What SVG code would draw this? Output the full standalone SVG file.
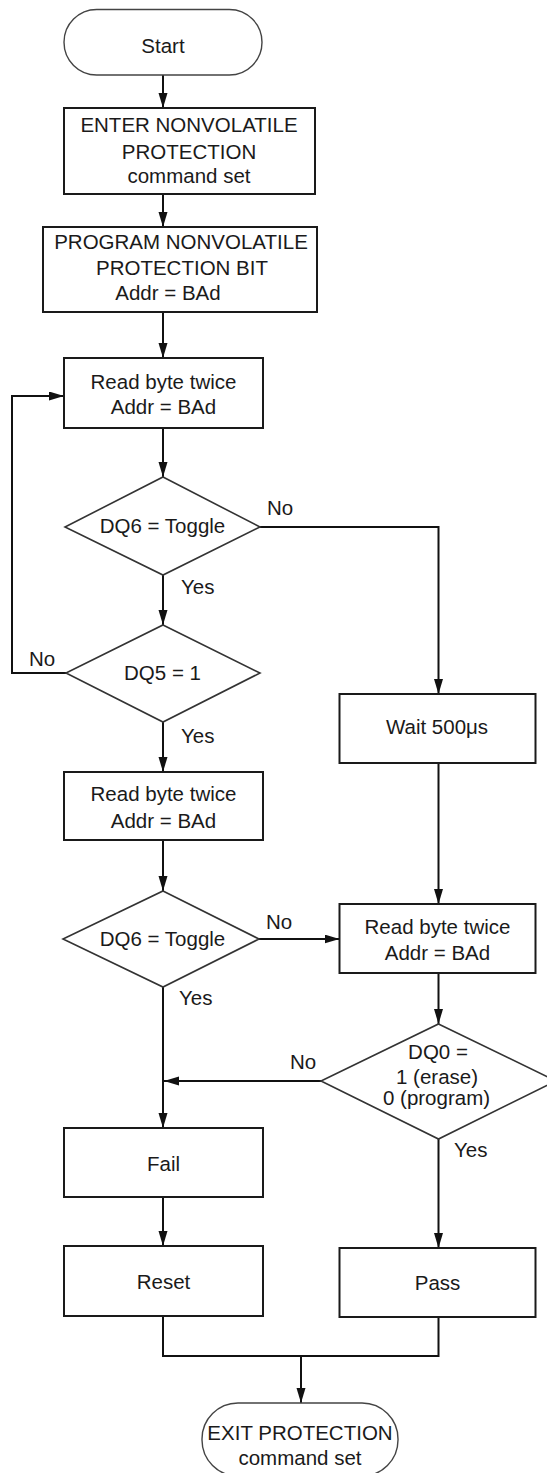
<svg xmlns="http://www.w3.org/2000/svg" width="547" height="1473" viewBox="0 0 547 1473">
<defs>
<marker id="ah" markerUnits="userSpaceOnUse" markerWidth="16" markerHeight="10" refX="15" refY="4.5" orient="auto">
<path d="M0,0 L15,4.5 L0,9 z" fill="#111"/>
</marker>
<style>
.box{fill:#fff;stroke:#1a1a1a;stroke-width:2}
.dia{fill:#fff;stroke:#333;stroke-width:1.6}
.term{fill:#fff;stroke:#444;stroke-width:1.4}
.t{font-family:"Liberation Sans",Arial,sans-serif;font-size:20.5px;fill:#1a1a1a;text-anchor:middle}
.l{font-family:"Liberation Sans",Arial,sans-serif;font-size:20.5px;fill:#1a1a1a}
.c{fill:none;stroke:#111;stroke-width:2}
</style>
</defs>
<rect width="547" height="1473" fill="#fff"/>
<g id="connectors">
<path class="c" d="M163,75 V108" marker-end="url(#ah)"/>
<path class="c" d="M163,194 V227" marker-end="url(#ah)"/>
<path class="c" d="M163,312 V358" marker-end="url(#ah)"/>
<path class="c" d="M163,428 V477" marker-end="url(#ah)"/>
<path class="c" d="M163,575 V625" marker-end="url(#ah)"/>
<path class="c" d="M66,673 H12 V396 H64" marker-end="url(#ah)"/>
<path class="c" d="M260,527 H438.5 V694" marker-end="url(#ah)"/>
<path class="c" d="M163,722 V772" marker-end="url(#ah)"/>
<path class="c" d="M163,840 V891" marker-end="url(#ah)"/>
<path class="c" d="M259,939 H339.5" marker-end="url(#ah)"/>
<path class="c" d="M438.5,763 V904" marker-end="url(#ah)"/>
<path class="c" d="M438.5,973 V1024" marker-end="url(#ah)"/>
<path class="c" d="M163,987 V1128" marker-end="url(#ah)"/>
<path class="c" d="M321,1081 H164" marker-end="url(#ah)"/>
<path class="c" d="M163,1197 V1246" marker-end="url(#ah)"/>
<path class="c" d="M438.5,1139 V1248" marker-end="url(#ah)"/>
<path class="c" d="M163,1316 V1356 H438.5 V1317"/>
<path class="c" d="M301,1356 V1403" marker-end="url(#ah)"/>
<text class="l" x="267" y="515">No</text>
<text class="l" x="181" y="594">Yes</text>
<text class="l" x="29" y="666">No</text>
<text class="l" x="181" y="743">Yes</text>
<text class="l" x="266" y="929">No</text>
<text class="l" x="179" y="1005">Yes</text>
<text class="l" x="290" y="1069">No</text>
<text class="l" x="454" y="1157">Yes</text>
</g>
<g id="start">
<rect class="term" x="64" y="9.5" width="198" height="65.5" rx="32.7"/>
<text class="t" x="163" y="53">Start</text>
</g>
<g id="enter">
<rect class="box" x="64" y="108" width="251" height="86"/>
<text class="t" x="189" y="132">ENTER NONVOLATILE</text>
<text class="t" x="189" y="158.5">PROTECTION</text>
<text class="t" x="189" y="183">command set</text>
</g>
<g id="program">
<rect class="box" x="43" y="227" width="274" height="85"/>
<text class="t" x="181" y="248.5">PROGRAM NONVOLATILE</text>
<text class="t" x="182" y="275">PROTECTION BIT</text>
<text class="t" x="168" y="300">Addr = BAd</text>
</g>
<g id="read1">
<rect class="box" x="64" y="358" width="199" height="70"/>
<text class="t" x="163.5" y="388.5">Read byte twice</text>
<text class="t" x="163.5" y="414">Addr = BAd</text>
</g>
<g id="dq6a">
<polygon class="dia" points="163,477 260,527 163,575 65,527"/>
<text class="t" x="162.5" y="533">DQ6 = Toggle</text>
</g>
<g id="dq5">
<polygon class="dia" points="163,625 260,673 163,722 66,673"/>
<text class="t" x="162.5" y="680">DQ5 = 1</text>
</g>
<g id="wait">
<rect class="box" x="339.5" y="694" width="196" height="69"/>
<text class="t" x="437" y="734">Wait 500μs</text>
</g>
<g id="read2">
<rect class="box" x="64" y="772" width="199" height="68"/>
<text class="t" x="163.5" y="801">Read byte twice</text>
<text class="t" x="163.5" y="827.5">Addr = BAd</text>
</g>
<g id="dq6b">
<polygon class="dia" points="163,891 259,939 163,987 63,939"/>
<text class="t" x="162.5" y="946">DQ6 = Toggle</text>
</g>
<g id="read3">
<rect class="box" x="339.5" y="904" width="196" height="69"/>
<text class="t" x="437.5" y="933.5">Read byte twice</text>
<text class="t" x="437.5" y="960">Addr = BAd</text>
</g>
<g id="dq0">
<polygon class="dia" points="438.5,1024 556,1081 438.5,1139 321,1081"/>
<text class="t" x="438" y="1058.5">DQ0 =</text>
<text class="t" x="437" y="1083.5">1 (erase)</text>
<text class="t" x="436.5" y="1105">0 (program)</text>
</g>
<g id="fail">
<rect class="box" x="64" y="1128" width="199" height="69"/>
<text class="t" x="163.5" y="1171">Fail</text>
</g>
<g id="reset">
<rect class="box" x="64" y="1246" width="199" height="70"/>
<text class="t" x="163.5" y="1288.5">Reset</text>
</g>
<g id="pass">
<rect class="box" x="339.5" y="1248" width="196" height="69"/>
<text class="t" x="437.5" y="1289.5">Pass</text>
</g>
<g id="exit">
<rect class="term" x="202" y="1403" width="196" height="73" rx="36"/>
<text class="t" x="300" y="1440">EXIT PROTECTION</text>
<text class="t" x="300" y="1465">command set</text>
</g>
</svg>
